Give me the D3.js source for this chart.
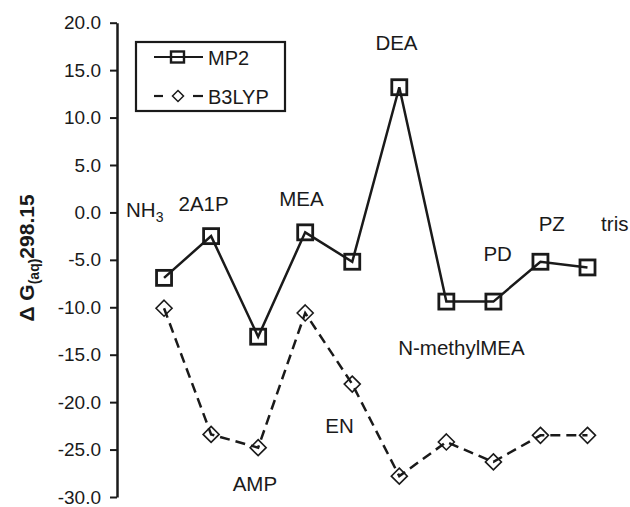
<!DOCTYPE html>
<html>
<head>
<meta charset="utf-8">
<script src="https://cdn.jsdelivr.net/npm/d3@7"></script>
<style>
  html, body { margin: 0; padding: 0; background: #fff; }
  svg { display: block; }
  text { font-family: "Liberation Sans", Arial, Helvetica, sans-serif; fill: #1a1a1a; }
</style>
</head>
<body>
<svg id="chart" width="630" height="507"></svg>
<script>
// ---- data ----
const categories = ["NH3", "2A1P", "AMP", "MEA", "EN", "DEA", "N-methylMEA", "PD", "PZ", "tris"];
const mp2Values   = [-6.9, -2.5, -13.1, -2.1, -5.2, 13.2, -9.4, -9.4, -5.2, -5.8];
const b3lypValues = [-10.1, -23.4, -24.8, -10.6, -18.1, -27.8, -24.2, -26.3, -23.5, -23.5];
const yTicks = [-30, -25, -20, -15, -10, -5, 0, 5, 10, 15, 20];
const seriesNames = ["MP2", "B3LYP"];
// label anchors (centre, in category-index / value units)
const labelIndex = [-0.41, 0.84, 1.93, 2.92, 3.73, 4.94, 6.32, 7.09, 8.24, 9.58];
const labelValue = [-0.5, 0.14, -29.37, 0.66, -23.25, 17.07, -15.05, -5.1, -1.94, -1.94];

// ---- layout ----
const svg = d3.select("#chart");
const ink = "#1a1a1a";
const axisX = 117;
const x = d3.scaleLinear().domain([-1, 9]).range([axisX, 587.5]);
const y = d3.scaleLinear().domain([-30, 20]).range([497, 22.7]);

// y axis
const fmt = v => d3.format(".1f")(v).replace("\u2212", "-");
const yAxis = d3.axisLeft(y).tickValues(yTicks).tickFormat(fmt)
  .tickSize(7).tickSizeOuter(0).tickPadding(9);
const gAxis = svg.append("g").attr("transform", `translate(${axisX},0)`).call(yAxis);
gAxis.select(".domain").attr("stroke", ink).attr("stroke-width", 2.5);
gAxis.selectAll(".tick line").attr("stroke", ink).attr("stroke-width", 2);
gAxis.selectAll(".tick text").attr("font-size", 19).attr("fill", ink)
  .attr("font-family", "Liberation Sans, Arial, sans-serif");

// y axis title
const title = svg.append("text")
  .attr("transform", "translate(34,258) rotate(-90)")
  .attr("text-anchor", "middle")
  .attr("font-weight", "bold")
  .attr("font-size", 21);
title.append("tspan").text("\u0394 G");
title.append("tspan").attr("font-size", 14).attr("dy", 5).text("(aq)");
title.append("tspan").attr("dy", -5).text("298.15");

// lines
const idx = d3.range(categories.length);
const lineGen = vals => d3.line().x(i => x(i)).y(i => y(vals[i]))(idx);

svg.append("path").attr("d", lineGen(mp2Values))
  .attr("fill", "none").attr("stroke", ink).attr("stroke-width", 2.5)
  .attr("stroke-linejoin", "miter");
svg.append("path").attr("d", lineGen(b3lypValues))
  .attr("fill", "none").attr("stroke", ink).attr("stroke-width", 2.5)
  .attr("stroke-dasharray", "10,6");

// markers
const sq = 15;
svg.append("g").selectAll("rect").data(idx).join("rect")
  .attr("x", i => x(i) - sq / 2).attr("y", i => y(mp2Values[i]) - sq / 2)
  .attr("width", sq).attr("height", sq)
  .attr("fill", "none").attr("stroke", ink).attr("stroke-width", 2.8);

const dm = 8;
const diamond = (cx, cy, r) => `M${cx},${cy - r}L${cx + r},${cy}L${cx},${cy + r}L${cx - r},${cy}Z`;
svg.append("g").selectAll("path").data(idx).join("path")
  .attr("d", i => diamond(x(i), y(b3lypValues[i]), dm))
  .attr("fill", "none").attr("stroke", ink).attr("stroke-width", 1.6);

// category labels
const lab = svg.append("g").selectAll("text").data(idx).join("text")
  .attr("x", i => x(labelIndex[i])).attr("y", i => y(labelValue[i]))
  .attr("text-anchor", "middle").attr("font-size", 20.5);
lab.each(function(i) {
  const t = d3.select(this);
  const name = categories[i];
  if (name === "NH3") {
    t.append("tspan").text("NH");
    t.append("tspan").attr("font-size", 14).attr("dy", 5).text("3");
  } else {
    t.text(name);
  }
});

// legend
const lg = svg.append("g");
lg.append("rect").attr("x", 136).attr("y", 42).attr("width", 149).attr("height", 69)
  .attr("fill", "#fff").attr("stroke", ink).attr("stroke-width", 2.2);
const row1 = 57, row2 = 96;
lg.append("line").attr("x1", 154).attr("x2", 203).attr("y1", row1).attr("y2", row1)
  .attr("stroke", ink).attr("stroke-width", 2.2);
lg.append("rect").attr("x", 171).attr("y", row1 - 5.5).attr("width", 13).attr("height", 11)
  .attr("fill", "none").attr("stroke", ink).attr("stroke-width", 2.4);
lg.append("line").attr("x1", 154).attr("x2", 163).attr("y1", row2).attr("y2", row2)
  .attr("stroke", ink).attr("stroke-width", 2.2);
lg.append("line").attr("x1", 193).attr("x2", 203).attr("y1", row2).attr("y2", row2)
  .attr("stroke", ink).attr("stroke-width", 2.2);
lg.append("path").attr("d", diamond(178, row2, 5.5))
  .attr("fill", "none").attr("stroke", ink).attr("stroke-width", 1.5);
lg.append("text").attr("x", 208).attr("y", row1 + 8).attr("font-size", 20).text(seriesNames[0]);
lg.append("text").attr("x", 208).attr("y", row2 + 8).attr("font-size", 20).text(seriesNames[1]);
</script>
</body>
</html>
